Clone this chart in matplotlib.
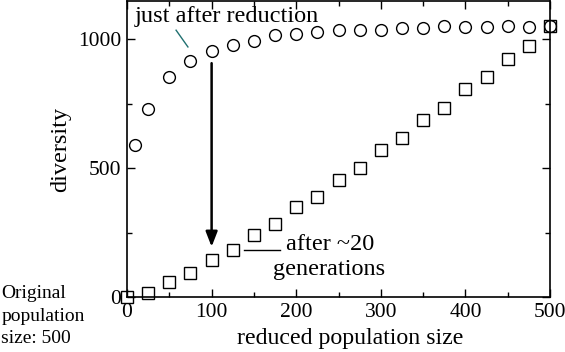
import numpy as np
import matplotlib
matplotlib.use('Agg')
import matplotlib.pyplot as plt
from matplotlib.ticker import MultipleLocator

plt.rcParams['font.family'] = ['Liberation Serif', 'DejaVu Serif']

# Data
size_after = [10, 25, 50, 75, 100, 125, 150, 175, 200, 225, 250, 275, 300,
              325, 350, 375, 400, 425, 450, 475, 500]
div_after = [589, 730, 853, 915, 955, 979, 995, 1015, 1022, 1028, 1035, 1035,
             1035, 1042, 1045, 1052, 1048, 1048, 1052, 1048, 1052]

size_gen = [0, 25, 50, 75, 100, 125, 150, 175, 200, 225, 250, 275, 300, 325,
            350, 375, 400, 425, 450, 475, 500]
div_gen = [0, 17, 58, 92, 143, 182, 240, 285, 348, 389, 453, 499, 570, 618,
           686, 735, 805, 854, 925, 974, 1052]

xticks = [0, 100, 200, 300, 400, 500]
yticks = [0, 500, 1000]

fig = plt.figure(figsize=(5.65, 3.52), dpi=100)
ax = fig.add_axes([0.2248, 0.1562, 0.7487, 0.8408])

ax.plot(size_after, div_after, 'o', ms=8.5, mfc='none', mec='black', mew=1.0,
        clip_on=False)
ax.plot(size_gen, div_gen, 's', ms=8, mfc='none', mec='black', mew=1.0,
        clip_on=False)

ax.set_xlim(0, 500)
ax.set_ylim(0, 1148)
ax.set_xticks(xticks)
ax.set_yticks(yticks)
ax.xaxis.set_minor_locator(MultipleLocator(50))
ax.yaxis.set_minor_locator(MultipleLocator(250))
ax.tick_params(which='both', direction='in', top=True, right=True,
               labelsize=15.5, width=1.0, color='black')
ax.tick_params(which='major', length=6, pad=4)
ax.tick_params(which='minor', length=3.5)
for s in ax.spines.values():
    s.set_linewidth(1.2)

ax.set_xlabel('reduced population size', fontsize=17.2)
ax.xaxis.set_label_coords(0.527, -0.104)
ax.set_ylabel('diversity', fontsize=17.5, labelpad=5)

# annotations
ax.annotate('', xy=(100, 195), xytext=(100, 907),
            arrowprops=dict(arrowstyle='-|>,head_length=0.9,head_width=0.35',
                            color='black', lw=1.8, shrinkA=0, shrinkB=0))
ax.text(9, 1088, 'just after reduction', fontsize=17.5, va='center', ha='left')
ax.plot([58, 72], [1035, 970], color='#207070', lw=1.0)
ax.plot([138, 181], [183, 183], color='black', lw=1.0)
ax.text(188, 205, 'after ~20', fontsize=17.5, va='center', ha='left')
ax.text(173, 108, 'generations', fontsize=17.5, va='center', ha='left')

fig.text(0.002, 0.19, 'Original\npopulation\nsize: 500', fontsize=14,
         va='top', ha='left', linespacing=1.42)

fig.savefig('out.png', dpi=100)
